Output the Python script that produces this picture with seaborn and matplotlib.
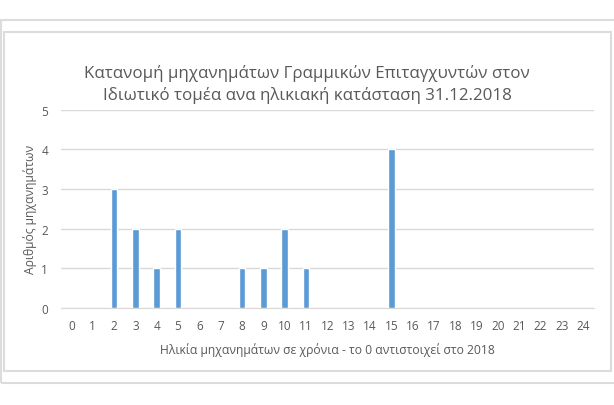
import matplotlib
matplotlib.use("Agg")
import matplotlib.pyplot as plt
import seaborn as sns
import pandas as pd
from matplotlib.patches import Rectangle

# age of machines (years) and number of machines
ages = list(range(0, 25))
counts = [0, 0, 3, 2, 1, 2, 0, 0, 1, 1, 2, 1, 0, 0, 0, 4,
          0, 0, 0, 0, 0, 0, 0, 0, 0]
yticks = [0, 1, 2, 3, 4, 5]

title_1 = "Κατανομή μηχανημάτων Γραμμικών Επιταγχυντών στον"
title_2 = "Ιδιωτικό τομέα ανα ηλικιακή κατάσταση 31.12.2018"
x_label = "Ηλικία μηχανημάτων σε χρόνια - το 0 αντιστοιχεί στο 2018"
y_label = "Αριθμός μηχανημάτων"

df = pd.DataFrame({"age": ages, "count": counts})

sns.set_style("white")
plt.rcParams["font.family"] = ["Open Sans", "DejaVu Sans"]
txt = "#595959"
grid = "#d9d9d9"

fig = plt.figure(figsize=(6.14, 4.06), dpi=100)
W, H = 614, 406

def fx(px):
    return px / W

def fy(py):
    return 1 - py / H

# frames around the chart (like a pasted cell)
fig.patches.append(Rectangle((fx(0.5), fy(384)), fx(616), 363 / H, transform=fig.transFigure,
                             fill=False, edgecolor="#dcdcdc", linewidth=1.5))
fig.patches.append(Rectangle((fx(3.5), fy(372)), fx(607.5), 339 / H, transform=fig.transFigure,
                             fill=False, edgecolor="#dcdcdc", linewidth=1.5))

ax = fig.add_axes([fx(60.7), fy(309), fx(594 - 60.7), (309 - 110.7) / H])
sns.barplot(data=df, x="age", y="count", color="#5b9bd5", width=0.31,
            saturation=1, ax=ax, zorder=3)
ax.set_ylim(0, 5)
ax.set_yticks(yticks)
ax.yaxis.grid(True, color=grid, linewidth=1, zorder=0)
for s in ["top", "right", "left"]:
    ax.spines[s].set_visible(False)
ax.spines["bottom"].set_color(grid)
ax.tick_params(axis="both", length=0, colors=txt, labelsize=8.5)
ax.tick_params(axis="y", pad=9)
ax.tick_params(axis="x", pad=8)
ax.set_xlabel(x_label, color=txt, fontsize=8.7, labelpad=7)
ax.set_ylabel(y_label, color=txt, fontsize=8.7, labelpad=3)

fig.text(fx(307), fy(73), title_1, ha="center", va="center", color=txt, fontsize=12.2)
fig.text(fx(307), fy(96), title_2, ha="center", va="center", color=txt, fontsize=12.2)

fig.savefig("out.png", dpi=100)
